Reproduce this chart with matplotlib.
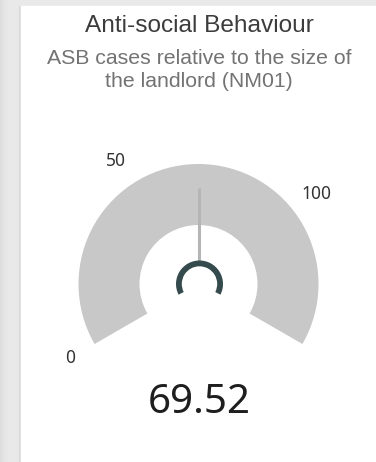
import numpy as np
import matplotlib
matplotlib.use("Agg")
import matplotlib.pyplot as plt
from matplotlib.patches import Wedge, Rectangle

# ---- data ----
title = "Anti-social Behaviour"
subtitle_lines = ["ASB cases relative to the size of", "the landlord (NM01)"]
value = 69.52
gauge_min = 0.0
gauge_max = 139.04
tick_values = [0, 50, 100]
tick_labels = ["0", "50", "100"]
value_label = "69.52"

W, H = 376, 462
fig = plt.figure(figsize=(W / 100, H / 100), dpi=100)
ax = fig.add_axes([0, 0, 1, 1])
ax.set_xlim(0, W)
ax.set_ylim(0, H)
ax.axis("off")

def py(y):  # pixel-from-top -> axis y
    return H - y

# background frame
ax.add_patch(Rectangle((0, 0), W, H, color="#e9e9e9", zorder=0))
for i, c in enumerate(["#dedede", "#e2e2e2", "#e6e6e6"]):
    ax.add_patch(Rectangle((i * 2, 0), 2, H, color=c, zorder=0.5))
ax.add_patch(Rectangle((19, 0), 1.5, H - 6, color="#dadada", zorder=0.6))
ax.add_patch(Rectangle((20.5, 0), W - 20.5, H - 6, color="white", zorder=1))

# gauge geometry
cx, cy = 198.5, py(284)
r_out, r_in = 120, 59
a_start, a_end = 210.0, -30.0

def val2ang(v):
    f = (v - gauge_min) / (gauge_max - gauge_min)
    return a_start + f * (a_end - a_start)

ax.add_patch(Wedge((cx, cy), r_out, a_end, a_start, width=r_out - r_in,
                   facecolor="#c8c8c8", edgecolor="none", zorder=2))

# needle
ang = np.deg2rad(val2ang(value))
r0, r1 = 22, 96
ax.plot([cx + r0 * np.cos(ang), cx + r1 * np.cos(ang)],
        [cy + r0 * np.sin(ang), cy + r1 * np.sin(ang)],
        color="#b5b5b5", lw=2.2, solid_capstyle="butt", zorder=3)

# hub
ax.add_patch(Wedge((cx + 1, cy), 23.5, a_end + 3, a_start - 3, width=5.8,
                   facecolor="#344a4d", edgecolor="none", zorder=4))

# tick labels
r_lab = 148
for v, lab in zip(tick_values, tick_labels):
    a = np.deg2rad(val2ang(v))
    ax.text(cx + r_lab * np.cos(a), cy + r_lab * np.sin(a), lab,
            ha="center", va="center", fontsize=12.5, color="#333333",
            family="Noto Sans", zorder=5)

# value label
ax.text(199, py(413), value_label, ha="center", va="baseline",
        fontsize=29, color="#1e1e1e", family="Noto Sans", zorder=5)

# title / subtitle
ax.text(199, py(31.5), title, ha="center", va="baseline", fontsize=17.6,
        color="#3c3c3c", family="Liberation Sans", zorder=5)
for i, line in enumerate(subtitle_lines):
    ax.text(199, py(64 + 23 * i), line, ha="center", va="baseline",
            fontsize=15.3, color="#737373", family="Liberation Sans", zorder=5)

fig.savefig("out.png", dpi=100)
